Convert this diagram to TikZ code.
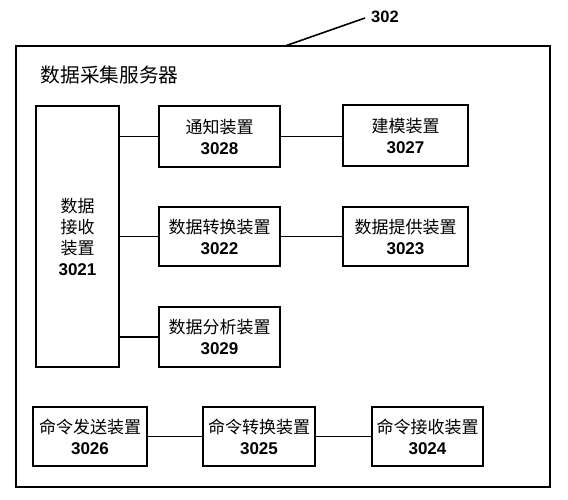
\documentclass[tikz,border=0pt]{standalone}
\usepackage{fontspec}
\setmainfont{Liberation Sans}
\newfontfamily\cjk{Noto Sans CJK SC}
\begin{document}
\begin{tikzpicture}[x=1pt,y=-1pt,line width=1.5pt,
  box/.style={draw,rectangle,inner sep=0pt,align=center,font=\fontsize{17}{21}\selectfont},
  lead/.style={line width=1.6pt}]
\useasboundingbox (0,0) rectangle (568,500);
\node[draw,rectangle,minimum width=534pt,minimum height=441pt,inner sep=0pt] (outer) at (283,266.5) {};
\node[anchor=west,font=\cjk\fontsize{19.7}{22}\selectfont,inner sep=0pt] (title) at (40,75) {数据采集服务器};
\node[box,minimum width=83pt,minimum height=261pt] (n3021) at (77.5,236.5) {{\cjk 数据}\\{\cjk 接收}\\{\cjk 装置}\\\textbf{3021}};
\node[box,minimum width=121pt,minimum height=61pt] (n3028) at (219.5,136.5) {{\cjk 通知装置}\\\textbf{3028}};
\node[box,minimum width=125pt,minimum height=61pt] (n3027) at (405.5,135.5) {{\cjk 建模装置}\\\textbf{3027}};
\node[box,minimum width=121pt,minimum height=59pt] (n3022) at (219.5,236.5) {{\cjk 数据转换装置}\\\textbf{3022}};
\node[box,minimum width=125pt,minimum height=59pt] (n3023) at (405.5,236.5) {{\cjk 数据提供装置}\\\textbf{3023}};
\node[box,minimum width=121pt,minimum height=60pt] (n3029) at (219.5,337) {{\cjk 数据分析装置}\\\textbf{3029}};
\node[box,minimum width=114pt,minimum height=59pt] (n3026) at (90,436.5) {{\cjk 命令发送装置}\\\textbf{3026}};
\node[box,minimum width=112pt,minimum height=59pt] (n3025) at (259,436.5) {{\cjk 命令转换装置}\\\textbf{3025}};
\node[box,minimum width=111pt,minimum height=59pt] (n3024) at (427.5,436.5) {{\cjk 命令接收装置}\\\textbf{3024}};
\node[font=\bfseries\fontsize{16.5}{18}\selectfont,inner sep=0pt] (lbl) at (385,17) {302};
\coordinate (leadend) at (285,46);
\coordinate (leadstart) at (365,18);
\draw[lead] (leadstart) -- (leadend);
\draw (n3021.east |- n3028.west) -- (n3028.west);
\draw (n3021.east |- n3022.west) -- (n3022.west);
\draw (n3021.east |- n3029.west) -- (n3029.west);
\draw (n3028.east) -- (n3028.east -| n3027.west);
\draw (n3022.east) -- (n3022.east -| n3023.west);
\draw (n3026) -- (n3025);
\draw (n3025) -- (n3024);
\end{tikzpicture}
\end{document}
